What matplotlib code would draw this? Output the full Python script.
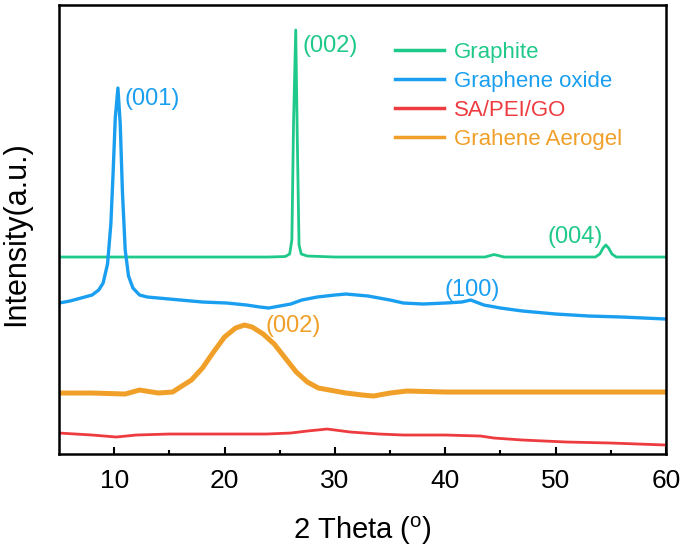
import matplotlib
matplotlib.use("Agg")
from matplotlib import pyplot as plt

plt.rcParams["font.family"] = ["Liberation Sans", "DejaVu Sans"]
plt.rcParams["mathtext.fontset"] = "custom"
plt.rcParams["mathtext.rm"] = "Liberation Sans"

# intensities (arbitrary units, offset stacked)
graphite_x = [5, 10, 15, 20, 24, 25.5, 25.9, 26.1, 26.25, 26.45, 26.6, 26.75, 26.95, 27.5,
              30, 40, 43.6, 44.1, 44.4, 44.8, 45.3, 50, 53.6, 54.0, 54.3, 54.55, 54.8,
              55.1, 55.5, 60]
graphite_y = [197, 197, 197, 197, 197, 197.5, 200, 214, 330, 424, 310, 209, 200, 198,
              197, 197, 197, 198.5, 199.5, 198.5, 197, 197, 197, 200, 206, 209, 206,
              200, 197, 197]

go_x = [5, 6, 7, 8, 8.6, 9, 9.4, 9.7, 9.9, 10.1, 10.34, 10.55, 10.75, 11, 11.3, 11.7,
        12.3, 13, 14, 16, 18, 20.2, 22, 23.2, 24, 25, 26, 27, 28.4, 30, 31, 33, 35,
        36.2, 38, 40, 41.5, 42.3, 43.5, 45, 47, 50, 53, 56, 60]
go_y = [151, 153, 156, 159, 164, 171, 190, 230, 280, 336, 366, 330, 262, 204, 178, 166,
        159, 157, 156, 154, 152, 151, 149, 147, 146, 148, 150, 154, 157, 159, 160, 158, 154,
        151, 150, 151, 152, 154, 149, 146, 143, 140, 138, 137, 135]

aerogel_x = [5, 8, 11, 12.3, 14, 15.3, 16, 17, 18, 19, 20, 21, 21.8, 22.5, 23.5, 24.5,
             25.5, 26.5, 27.5, 28.5, 30, 31, 32.5, 33.5, 35, 36.5, 40, 45, 50, 55, 60]
aerogel_y = [61, 61, 60, 64, 61, 62, 67, 74, 86, 102, 117, 126, 129, 127, 120, 110,
             96, 82, 72, 66, 63, 61, 59, 58, 61, 63, 62, 62, 62, 62, 62]

sapei_x = [5, 8, 10.2, 12, 15, 20, 23.8, 26, 27.5, 29.3, 31.4, 34, 36.2, 40, 43.2, 44.4,
           47, 51, 55, 60]
sapei_y = [21, 19, 17, 19, 20, 20, 20, 21, 23, 25, 22, 20, 19, 19, 18, 16,
           14, 12, 11, 9]

green = "#1fc98a"
blue = "#1a9ff0"
red = "#ee3b3f"
orange = "#f0a028"

fig = plt.figure(figsize=(6.85, 5.51), dpi=100)
ax = fig.add_axes([0.0861, 0.176, 0.8862, 0.8149])

ax.plot(graphite_x, graphite_y, color=green, lw=2.0, label="Graphite")
ax.plot(go_x, go_y, color=blue, lw=2.4, label="Graphene oxide")
ax.plot(sapei_x, sapei_y, color=red, lw=2.0, label="SA/PEI/GO")
ax.plot(aerogel_x, aerogel_y, color=orange, lw=3.6, label="Grahene Aerogel")

ax.text(27.1, 408, "(002)", color=green, fontsize=17, va="center", ha="left")
ax.text(10.9, 355, "(001)", color=blue, fontsize=17, va="center", ha="left")
ax.text(49.3, 217, "(004)", color=green, fontsize=17, va="center", ha="left")
ax.text(39.9, 164, "(100)", color=blue, fontsize=17, va="center", ha="left")
ax.text(23.7, 128, "(002)", color=orange, fontsize=17, va="center", ha="left")

ax.set_xlim(5, 60)
ax.set_ylim(0, 449)
ax.set_xticks([10, 20, 30, 40, 50, 60])
ax.set_xticks([15, 25, 35, 45, 55], minor=True)
ax.set_yticks([])
ax.tick_params(axis="x", which="major", direction="in", length=5, width=1.5,
               labelsize=19, pad=11)
ax.tick_params(axis="x", which="minor", direction="in", length=3, width=1.5)
for s in ax.spines.values():
    s.set_linewidth(1.8)

ax.set_xlabel("2 Theta ($\\mathregular{^o}$)", fontsize=21, labelpad=15)
ax.set_ylabel("Intensity(a.u.)", fontsize=22)
ax.yaxis.set_label_coords(-0.046, 0.49)

leg = ax.legend(loc="upper left", bbox_to_anchor=(0.52, 0.962), frameon=False,
                fontsize=16, handlelength=2.2, handletextpad=0.45, labelspacing=0.36)
for txt, line in zip(leg.get_texts(), leg.get_lines()):
    txt.set_color(line.get_color())
    line.set_linewidth(2.5)

fig.savefig("out.png", dpi=100)
